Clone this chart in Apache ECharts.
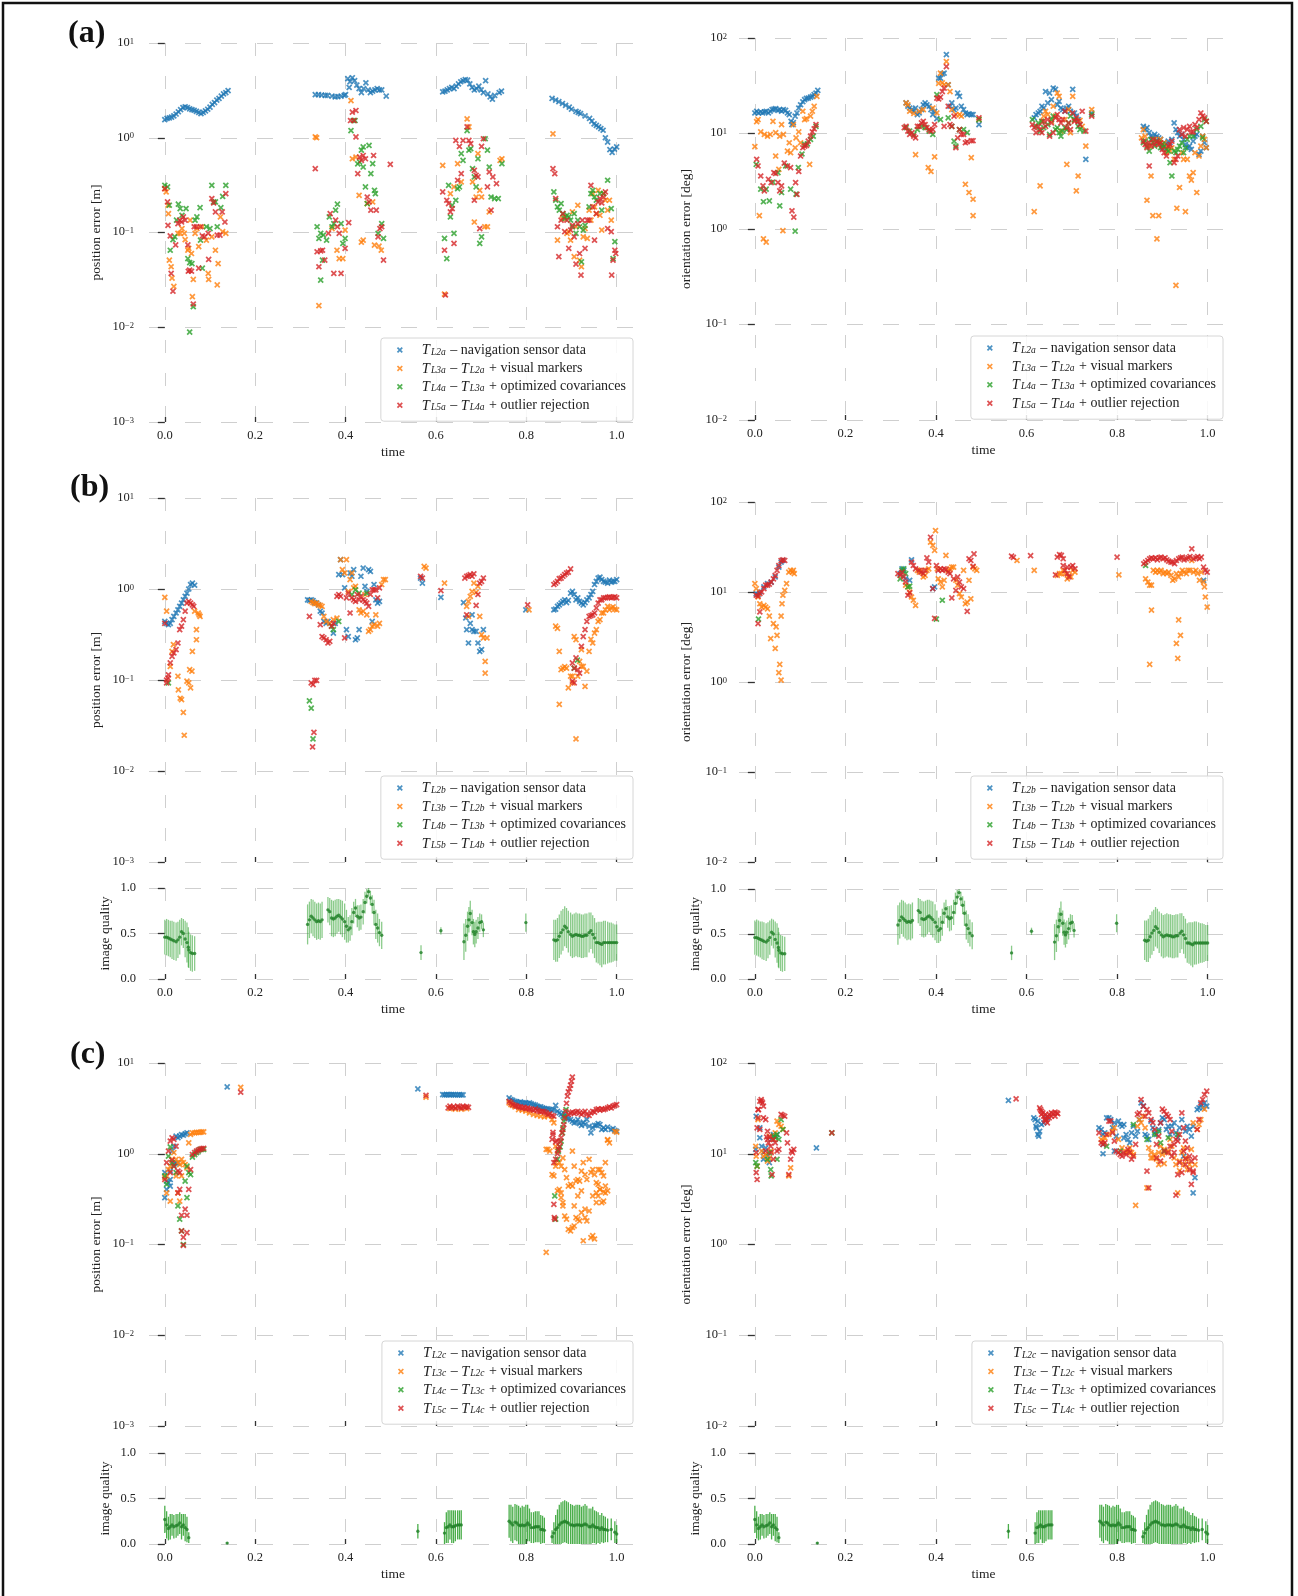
<!DOCTYPE html>
<html>
<head>
<meta charset="utf-8">
<title>Trajectory error and image quality over time</title>
<script src="https://cdn.jsdelivr.net/npm/echarts@6.0.0/dist/echarts.min.js"></script>
<style>
  html, body { margin: 0; padding: 0; background: #ffffff; }
  #chart { width: 1298px; height: 1596px; }
</style>
</head>
<body>
<div id="chart"></div>
<script>
// ---------- tick values ----------
const timeTicks = [0, 0.2, 0.4, 0.6, 0.8, 1.0];

// ---------- series labels ----------
const layerNames = {
  a: ['L2a', 'L3a', 'L4a', 'L5a'],
  b: ['L2b', 'L3b', 'L4b', 'L5b'],
  c: ['L2c', 'L3c', 'L4c', 'L5c']
};
const layerText = ['navigation sensor data', 'visual markers', 'optimized covariances', 'outlier rejection'];

// ---------- (a) position error [m] ----------
const posA_nav = [[0,1.55],[0.005,1.6],[0.01,1.62],[0.015,1.65],[0.02,1.7],[0.025,1.78],[0.03,1.88],[0.035,1.98],[0.04,2.08],[0.045,2.12],[0.05,2.08],[0.055,2.02],[0.06,1.98],[0.065,1.95],[0.07,1.9],[0.075,1.85],[0.08,1.8],[0.085,1.85],[0.09,1.92],[0.095,2.0],[0.1,2.1],[0.105,2.25],[0.11,2.35],[0.115,2.5],[0.12,2.6],[0.125,2.75],[0.13,2.9],[0.135,3.0],[0.14,3.15],
[0.333,2.85],[0.34,2.85],[0.347,2.82],[0.355,2.8],[0.36,2.8],[0.37,2.75],[0.377,2.7],[0.383,2.72],[0.39,2.75],[0.397,2.8],[0.4,2.85],[0.405,4.2],[0.41,3.9],[0.415,4.3],[0.42,4.0],[0.425,3.6],[0.43,3.3],[0.435,3.0],[0.44,3.3],[0.445,3.8],[0.45,3.2],[0.455,3.0],[0.46,3.1],[0.465,3.2],[0.47,3.3],[0.475,3.2],[0.48,3.2],[0.49,2.75],[0.408,3.4],
[0.615,3.05],[0.62,3.1],[0.625,3.2],[0.63,3.3],[0.635,3.4],[0.64,3.3],[0.645,3.5],[0.65,3.7],[0.655,3.9],[0.66,4.0],[0.665,4.1],[0.67,4.05],[0.675,3.7],[0.68,3.4],[0.685,3.2],[0.69,3.3],[0.695,3.5],[0.7,3.2],[0.705,3.0],[0.71,4.0],[0.715,2.9],[0.72,2.7],[0.725,2.55],[0.73,2.8],[0.74,3.0],[0.745,3.1],
[0.857,2.6],[0.865,2.5],[0.872,2.4],[0.88,2.3],[0.887,2.2],[0.895,2.1],[0.9,2.0],[0.91,1.9],[0.915,1.85],[0.92,1.8],[0.93,1.7],[0.94,1.6],[0.945,1.5],[0.95,1.4],[0.955,1.35],[0.96,1.3],[0.965,1.25],[0.97,1.2],[0.975,1.0],[0.98,0.9],[0.985,0.75],[0.99,0.7],[0.995,0.76],[1.0,0.8]];
const posA_vis = [[0,0.29],[0.003,0.268],[0.007,0.194],[0.008,0.158],[0.01,0.051],[0.014,0.0435],[0.016,0.033],[0.02,0.027],[0.029,0.098],[0.034,0.098],[0.038,0.11],[0.043,0.098],[0.045,0.084],[0.051,0.065],[0.053,0.068],[0.056,0.135],[0.059,0.06],[0.061,0.021],[0.063,0.032],[0.067,0.098],[0.071,0.11],[0.075,0.071],[0.083,0.115],[0.092,0.083],[0.096,0.037],[0.097,0.032],[0.104,0.09],[0.112,0.065],[0.116,0.028],[0.118,0.047],[0.123,0.146],[0.128,0.102],[0.135,0.098],
[0.333,1.02],[0.336,1.0],[0.341,0.0169],[0.37,0.11],[0.381,0.065],[0.386,0.053],[0.394,0.053],[0.399,0.106],[0.412,2.47],[0.415,0.6],[0.423,0.625],[0.43,0.247],[0.435,0.079],[0.439,0.083],[0.448,0.202],[0.46,0.21],[0.464,0.0736],[0.474,0.0718],[0.479,0.065],
[0.615,0.51],[0.619,0.0224],[0.632,0.257],[0.64,0.303],[0.648,0.532],[0.656,0.342],[0.669,1.58],[0.673,1.3],[0.681,0.342],[0.685,0.129],[0.689,0.237],[0.693,0.68],[0.697,0.279],[0.701,0.237],[0.708,0.115],[0.714,0.115],[0.718,0.165],[0.742,0.577],[0.746,0.6],
[0.859,1.1],[0.869,0.083],[0.88,0.14],[0.885,0.146],[0.89,0.098],[0.894,0.102],[0.898,0.083],[0.902,0.165],[0.906,0.0556],[0.91,0.115],[0.914,0.194],[0.918,0.051],[0.922,0.0435],[0.926,0.09],[0.93,0.11],[0.935,0.0865],[0.939,0.172],[0.943,0.135],[0.947,0.257],[0.951,0.186],[0.955,0.158],[0.959,0.279],[0.963,0.152],[0.967,0.106],[0.971,0.257],[0.975,0.219],[0.98,0.172],[0.984,0.219],[0.988,0.135]];
const posA_cov = [[0,0.315],[0.006,0.303],[0.01,0.194],[0.012,0.065],[0.018,0.084],[0.022,0.09],[0.026,0.135],[0.03,0.199],[0.034,0.179],[0.038,0.152],[0.047,0.179],[0.051,0.053],[0.055,0.048],[0.06,0.047],[0.063,0.0165],[0.067,0.135],[0.071,0.146],[0.078,0.183],[0.079,0.083],[0.083,0.042],[0.092,0.115],[0.1,0.11],[0.104,0.315],[0.108,0.21],[0.112,0.21],[0.116,0.115],[0.124,0.183],[0.128,0.24],[0.135,0.315],[0.055,0.0089],
[0.337,0.115],[0.341,0.0865],[0.345,0.098],[0.345,0.0315],[0.349,0.051],[0.351,0.094],[0.358,0.083],[0.364,0.146],[0.37,0.115],[0.374,0.124],[0.378,0.172],[0.382,0.199],[0.39,0.124],[0.394,0.0766],[0.399,0.0865],[0.412,1.19],[0.417,1.52],[0.421,1.52],[0.427,0.53],[0.431,0.555],[0.435,0.74],[0.439,0.8],[0.439,0.491],[0.444,0.303],[0.448,0.202],[0.452,0.83],[0.456,0.418],[0.46,0.532],[0.464,0.279],[0.466,0.257],[0.472,0.098],[0.48,0.124],[0.484,0.0865],
[0.619,0.0865],[0.624,0.053],[0.628,0.315],[0.632,0.146],[0.636,0.194],[0.64,0.098],[0.644,0.219],[0.648,0.29],[0.652,0.303],[0.656,0.68],[0.66,0.577],[0.669,1.19],[0.673,0.74],[0.677,0.766],[0.681,0.472],[0.685,0.386],[0.689,0.303],[0.693,0.6],[0.697,0.0766],[0.701,0.09],[0.709,0.976],[0.714,0.74],[0.718,0.491],[0.722,0.237],[0.73,0.228],[0.738,0.228],[0.746,0.532],
[0.861,0.268],[0.865,0.219],[0.869,0.186],[0.873,0.172],[0.877,0.202],[0.881,0.158],[0.885,0.14],[0.89,0.152],[0.894,0.146],[0.898,0.135],[0.902,0.115],[0.906,0.158],[0.91,0.098],[0.914,0.135],[0.918,0.115],[0.922,0.049],[0.926,0.106],[0.93,0.119],[0.939,0.186],[0.943,0.257],[0.947,0.279],[0.951,0.237],[0.955,0.219],[0.963,0.257],[0.967,0.172],[0.971,0.257],[0.98,0.356],[0.988,0.179],[0.996,0.08],[0.992,0.053]];
const posA_rej = [[0,0.29],[0.006,0.21],[0.007,0.119],[0.012,0.092],[0.014,0.037],[0.018,0.024],[0.024,0.074],[0.029,0.124],[0.033,0.135],[0.037,0.129],[0.041,0.146],[0.045,0.135],[0.051,0.074],[0.052,0.039],[0.055,0.04],[0.059,0.039],[0.063,0.0176],[0.065,0.115],[0.07,0.115],[0.075,0.042],[0.079,0.115],[0.083,0.092],[0.088,0.09],[0.096,0.098],[0.097,0.052],[0.104,0.228],[0.108,0.205],[0.112,0.165],[0.116,0.094],[0.122,0.094],[0.127,0.165],[0.133,0.129],[0.135,0.257],
[0.333,0.472],[0.337,0.0626],[0.341,0.0435],[0.345,0.064],[0.349,0.065],[0.354,0.0512],[0.362,0.098],[0.366,0.158],[0.374,0.037],[0.378,0.135],[0.382,0.115],[0.386,0.098],[0.39,0.037],[0.399,0.068],[0.407,0.127],[0.411,1.52],[0.415,1.86],[0.419,1.52],[0.423,1.94],[0.423,1.02],[0.427,0.418],[0.431,0.625],[0.435,0.577],[0.439,0.65],[0.444,0.6],[0.448,0.237],[0.452,0.21],[0.456,0.172],[0.462,0.65],[0.468,0.172],[0.472,0.09],[0.476,0.11],[0.48,0.115],[0.484,0.0512],[0.499,0.524],
[0.615,0.268],[0.619,0.065],[0.621,0.0219],[0.624,0.219],[0.628,0.202],[0.632,0.165],[0.636,0.179],[0.64,0.0766],[0.644,0.937],[0.648,0.356],[0.652,0.81],[0.656,0.418],[0.66,0.937],[0.669,1.3],[0.673,0.937],[0.677,0.865],[0.685,0.453],[0.685,0.219],[0.689,0.402],[0.693,0.386],[0.697,0.11],[0.701,0.81],[0.705,0.976],[0.714,0.303],[0.718,0.435],[0.722,0.172],[0.726,0.386],[0.734,0.328],
[0.859,0.472],[0.863,0.418],[0.865,0.228],[0.869,0.115],[0.872,0.0556],[0.877,0.135],[0.881,0.158],[0.885,0.102],[0.89,0.135],[0.894,0.068],[0.898,0.106],[0.902,0.119],[0.906,0.09],[0.91,0.0464],[0.914,0.124],[0.918,0.06],[0.921,0.0355],[0.924,0.135],[0.93,0.068],[0.935,0.135],[0.939,0.135],[0.943,0.315],[0.947,0.186],[0.951,0.083],[0.955,0.158],[0.959,0.21],[0.963,0.228],[0.967,0.205],[0.971,0.237],[0.975,0.268],[0.98,0.11],[0.988,0.102],[0.989,0.0355],[0.992,0.051],[0.996,0.065],[0.998,0.06]];

// ---------- (a) orientation error [deg] ----------
const oriA_nav = [[0,16.4],[0.004,17.1],[0.008,16.4],[0.013,16.8],[0.017,16.4],[0.021,16.9],[0.025,17.1],[0.03,16.4],[0.034,17.1],[0.038,17.8],[0.042,18.0],[0.046,18.2],[0.051,17.5],[0.055,17.8],[0.059,17.1],[0.063,17.8],[0.068,17.5],[0.072,16.4],[0.076,15.8],[0.08,13.4],[0.082,12.4],[0.085,13.0],[0.089,15.2],[0.093,16.4],[0.097,18.5],[0.101,20.0],[0.106,21.5],[0.11,22.6],[0.114,23.3],[0.118,23.5],[0.123,24.0],[0.127,24.5],[0.131,25.5],[0.135,26.5],[0.139,28.3],
[0.334,20.9],[0.338,19.3],[0.342,18.5],[0.347,17.8],[0.351,17.1],[0.355,18.5],[0.359,15.8],[0.363,16.4],[0.368,17.8],[0.372,20.0],[0.376,20.9],[0.38,20.0],[0.385,19.3],[0.389,17.8],[0.393,15.8],[0.397,17.1],[0.402,14.3],[0.406,38],[0.41,38],[0.414,42],[0.418,42.8],[0.423,67],[0.427,32.4],[0.431,19.3],[0.435,20.9],[0.44,17.8],[0.444,18.5],[0.448,26.5],[0.452,24.5],[0.456,19.3],[0.461,17.8],[0.465,16.4],[0.469,15.8],[0.473,16.1],[0.478,15.8],[0.482,15.8],[0.495,12.4],
[0.617,14.6],[0.621,15.8],[0.626,16.4],[0.63,17.1],[0.634,19.3],[0.638,18.5],[0.642,27.5],[0.647,20.9],[0.651,26.5],[0.655,22.6],[0.659,29.9],[0.664,29.0],[0.668,20.0],[0.672,21.7],[0.676,18.5],[0.68,17.8],[0.685,17.1],[0.689,18.5],[0.693,19.3],[0.697,17.1],[0.702,29.0],[0.706,16.4],[0.71,15.2],[0.714,14.0],[0.718,12.4],[0.731,5.36],[0.744,16.4],
[0.858,11.9],[0.862,11.0],[0.866,11.5],[0.871,10.2],[0.875,9.38],[0.879,9.0],[0.883,9.77],[0.888,9.38],[0.892,9.0],[0.896,8.66],[0.9,7.09],[0.904,8.0],[0.909,7.68],[0.913,8.32],[0.917,7.38],[0.921,8.66],[0.926,12.9],[0.93,11.0],[0.934,10.2],[0.938,9.38],[0.943,9.77],[0.947,8.66],[0.951,7.68],[0.955,7.09],[0.96,7.38],[0.964,6.81],[0.968,8.32],[0.972,9.38],[0.976,9.77],[0.981,6.04],[0.985,6.55],[0.989,9.38],[0.993,8.0],[0.997,7.09]];
const oriA_vis = [[0,7.3],[0.004,13.3],[0.007,14.0],[0.013,10.4],[0.021,9.77],[0.028,9.38],[0.034,9.77],[0.04,13.4],[0.046,10.2],[0.055,9.38],[0.059,12.4],[0.063,9.77],[0.076,8.0],[0.085,12.4],[0.091,9.0],[0.097,10.4],[0.106,17.1],[0.11,14.0],[0.114,14.3],[0.123,15.2],[0.127,17.1],[0.131,19.3],[0.137,24.5],[0.01,1.38],[0.019,0.79],[0.025,0.73],[0.046,5.81],[0.053,4.22],[0.062,0.96],[0.072,6.55],[0.079,6.29],[0.089,7.09],[0.101,8.0],[0.121,4.75],
[0.334,20.9],[0.338,20.0],[0.342,17.1],[0.351,16.2],[0.355,6.0],[0.363,17.1],[0.372,17.8],[0.383,4.4],[0.389,4.0],[0.393,18.5],[0.397,5.7],[0.402,16.4],[0.406,33.5],[0.41,42.8],[0.414,34],[0.418,32.4],[0.423,56.6],[0.427,32.4],[0.431,27.5],[0.435,17.8],[0.444,15.8],[0.452,15.8],[0.456,15.2],[0.465,2.94],[0.473,2.41],[0.478,5.58],[0.482,2.05],[0.482,1.38],[0.495,14.0],
[0.617,1.52],[0.63,2.83],[0.634,13.4],[0.638,15.2],[0.642,17.1],[0.647,15.8],[0.655,13.4],[0.659,19.3],[0.664,15.2],[0.668,26.5],[0.672,24.5],[0.676,10.6],[0.685,14.0],[0.689,4.75],[0.693,17.8],[0.697,10.2],[0.702,24.5],[0.706,13.7],[0.71,2.51],[0.714,3.59],[0.718,13.7],[0.723,11.9],[0.731,7.38],[0.744,17.8],
[0.854,9.0],[0.858,11.0],[0.862,9.38],[0.866,2.0],[0.871,7.38],[0.875,3.59],[0.879,1.38],[0.883,8.66],[0.888,0.79],[0.892,1.38],[0.896,8.66],[0.9,7.38],[0.904,8.0],[0.909,6.29],[0.913,7.09],[0.917,6.55],[0.921,7.09],[0.926,5.36],[0.93,0.257],[0.932,1.65],[0.938,2.72],[0.943,6.29],[0.947,5.36],[0.951,1.52],[0.955,5.36],[0.96,3.59],[0.964,3.25],[0.968,3.89],[0.972,6.29],[0.976,2.41],[0.981,5.81],[0.985,7.38],[0.989,9.38],[0.993,8.66],[0.997,7.09]];
const oriA_cov = [[0.003,4.75],[0.013,2.61],[0.019,1.93],[0.025,2.61],[0.032,1.97],[0.04,3.1],[0.051,3.89],[0.055,1.75],[0.059,2.41],[0.068,4.57],[0.079,2.61],[0.089,0.95],[0.091,2.32],[0.096,4.4],[0.104,6.1],[0.11,7.68],[0.116,7.8],[0.123,8.66],[0.129,9.38],[0.135,11.9],
[0.334,11.5],[0.342,10.6],[0.351,9.77],[0.359,11.0],[0.368,11.9],[0.376,11.5],[0.385,10.6],[0.393,9.77],[0.402,25.5],[0.41,14.0],[0.427,14.6],[0.435,11.9],[0.44,8.32],[0.444,7.38],[0.452,11.0],[0.461,11.0],[0.469,10.2],[0.495,14.0],
[0.613,14.0],[0.621,11.9],[0.626,12.9],[0.63,10.6],[0.634,13.4],[0.638,11.5],[0.647,12.4],[0.651,9.77],[0.655,14.0],[0.659,15.2],[0.664,11.0],[0.668,11.5],[0.672,10.2],[0.676,9.38],[0.68,10.6],[0.685,11.5],[0.689,11.0],[0.693,12.9],[0.697,15.2],[0.706,14.0],[0.714,11.9],[0.718,11.0],[0.727,10.6],[0.744,15.8],
[0.858,8.0],[0.862,8.32],[0.866,7.38],[0.871,6.55],[0.875,8.66],[0.879,8.0],[0.883,7.38],[0.888,8.32],[0.892,8.0],[0.896,7.09],[0.9,7.68],[0.904,7.38],[0.909,6.81],[0.913,6.55],[0.917,4.95],[0.921,3.59],[0.926,6.55],[0.93,6.29],[0.934,6.81],[0.938,7.38],[0.943,8.0],[0.947,6.29],[0.951,7.09],[0.955,8.66],[0.96,9.38],[0.968,9.38],[0.976,11.0],[0.985,11.9],[0.989,9.0],[0.993,14.0],[0.997,13.4]];
const oriA_rej = [[0.004,5.36],[0.007,4.57],[0.013,3.59],[0.018,2.83],[0.021,2.51],[0.03,3.32],[0.036,3.06],[0.042,3.89],[0.046,3.81],[0.051,3.06],[0.055,2.51],[0.059,2.83],[0.065,4.9],[0.072,4.57],[0.079,4.4],[0.082,1.55],[0.086,1.33],[0.09,3.06],[0.093,2.31],[0.097,4.0],[0.101,5.81],[0.106,7.09],[0.11,7.38],[0.114,7.52],[0.118,8.32],[0.123,9.38],[0.127,10.4],[0.131,11.2],[0.135,12.4],
[0.33,11.5],[0.334,11.9],[0.338,10.6],[0.342,9.77],[0.347,10.2],[0.351,9.38],[0.355,9.0],[0.359,11.9],[0.363,11.9],[0.368,12.9],[0.372,13.4],[0.376,12.4],[0.38,11.5],[0.385,11.0],[0.389,10.6],[0.393,11.0],[0.397,12.4],[0.402,23.5],[0.406,23.0],[0.41,24.0],[0.414,27.5],[0.418,29.9],[0.423,50.2],[0.418,11.9],[0.427,19.3],[0.431,12.4],[0.435,11.9],[0.44,15.2],[0.444,7.1],[0.448,9.0],[0.452,11.0],[0.456,9.77],[0.461,9.77],[0.465,8.0],[0.469,8.2],[0.478,8.4],[0.482,8.4],[0.495,14.6],
[0.613,12.4],[0.617,11.5],[0.621,10.2],[0.626,11.9],[0.63,11.0],[0.634,10.2],[0.638,13.4],[0.642,11.9],[0.647,14.0],[0.651,9.38],[0.655,12.9],[0.659,10.2],[0.664,14.6],[0.668,15.8],[0.672,14.0],[0.676,12.9],[0.68,14.0],[0.685,17.1],[0.689,11.5],[0.693,12.9],[0.697,11.0],[0.702,16.4],[0.706,13.4],[0.71,14.6],[0.714,13.4],[0.718,12.4],[0.723,17.1],[0.731,10.6],[0.744,15.2],
[0.858,8.32],[0.862,7.68],[0.866,7.09],[0.871,8.0],[0.875,7.38],[0.879,8.66],[0.883,7.68],[0.888,8.32],[0.892,7.68],[0.896,8.0],[0.9,6.81],[0.904,6.29],[0.909,5.81],[0.913,7.38],[0.917,7.68],[0.921,8.32],[0.926,4.95],[0.93,5.36],[0.934,5.81],[0.938,11.0],[0.943,9.77],[0.947,11.5],[0.951,9.38],[0.955,11.0],[0.96,11.9],[0.964,10.4],[0.968,10.4],[0.972,12.4],[0.976,11.5],[0.981,14.0],[0.985,16.4],[0.989,15.2],[0.993,14.6],[0.997,13.4],[0.871,4.57]];

// ---------- (b) position error [m] ----------
const posB_nav = [[0,0.44],[0.004,0.42],[0.008,0.405],[0.012,0.42],[0.016,0.46],[0.02,0.5],[0.025,0.545],[0.029,0.59],[0.033,0.645],[0.037,0.7],[0.041,0.76],[0.045,0.83],[0.049,0.9],[0.053,1.0],[0.057,1.12],[0.061,1.16],[0.066,1.1],
[0.316,0.76],[0.32,0.75],[0.324,0.76],[0.328,0.745],[0.332,0.71],[0.336,0.7],[0.34,0.67],[0.344,0.57],[0.348,0.545],[0.352,0.44],[0.357,0.42],[0.361,0.44],[0.373,0.328],[0.377,0.42],[0.385,1.44],[0.389,2.1],[0.393,1.44],[0.398,1.03],[0.402,0.357],[0.406,0.3],[0.41,1.5],[0.414,1.38],[0.418,1.63],[0.422,0.277],[0.426,0.29],[0.43,0.357],[0.434,1.38],[0.439,1.7],[0.443,1.07],[0.447,0.94],[0.451,1.63],[0.455,1.56],[0.459,0.44],[0.463,1.12],[0.467,0.76],[0.471,0.7],[0.475,0.73],
[0.566,1.32],[0.57,1.16],[0.611,0.81],[0.661,0.71],[0.666,0.48],[0.668,0.357],[0.672,0.255],[0.676,0.42],[0.68,0.357],[0.684,0.343],[0.689,0.343],[0.693,0.255],[0.697,0.206],[0.701,0.216],[0.705,0.357],[0.68,0.52],[0.799,0.59],
[0.861,0.59],[0.865,0.6],[0.869,0.645],[0.873,0.67],[0.877,0.7],[0.881,0.73],[0.885,0.76],[0.889,0.71],[0.893,0.75],[0.898,0.9],[0.902,0.94],[0.906,0.87],[0.91,0.76],[0.914,0.8],[0.918,0.73],[0.922,0.7],[0.926,0.67],[0.93,0.71],[0.934,0.76],[0.939,0.8],[0.943,0.87],[0.947,0.94],[0.951,1.12],[0.955,1.21],[0.959,1.32],[0.963,1.35],[0.967,1.27],[0.971,1.21],[0.975,1.19],[0.98,1.16],[0.984,1.25],[0.988,1.19],[0.992,1.21],[0.996,1.21],[1.0,1.27]];
const posB_vis = [[0,0.81],[0.004,0.57],[0.012,0.141],[0.016,0.206],[0.019,0.245],[0.029,0.11],[0.03,0.078],[0.034,0.063],[0.037,0.061],[0.041,0.044],[0.043,0.0247],[0.049,0.097],[0.053,0.093],[0.057,0.082],[0.066,0.57],[0.07,0.357],[0.074,0.545],[0.076,0.52],[0.078,0.5],[0.07,0.277],[0.061,0.206],[0.06,0.125],[0.055,0.13],
[0.324,0.73],[0.328,0.71],[0.332,0.69],[0.336,0.7],[0.34,0.67],[0.344,0.66],[0.348,0.645],[0.352,0.5],[0.357,0.44],[0.365,0.42],[0.373,0.46],[0.381,0.48],[0.389,2.1],[0.393,1.63],[0.398,1.5],[0.402,2.1],[0.406,0.94],[0.41,1.27],[0.414,1.5],[0.418,1.03],[0.422,1.07],[0.43,0.59],[0.434,0.545],[0.439,0.57],[0.443,0.87],[0.447,0.52],[0.451,0.343],[0.455,0.357],[0.459,0.39],[0.463,0.405],[0.467,0.52],[0.471,0.39],[0.475,0.42],[0.48,1.12],[0.484,1.27],[0.488,1.27],
[0.574,1.77],[0.578,1.7],[0.619,1.16],[0.668,0.645],[0.672,0.73],[0.676,0.83],[0.68,0.94],[0.684,1.16],[0.689,0.92],[0.693,1.07],[0.697,0.5],[0.701,0.315],[0.705,0.29],[0.709,0.16],[0.709,0.119],[0.713,0.29],[0.672,0.5],[0.806,0.59],
[0.865,0.39],[0.869,0.37],[0.873,0.206],[0.877,0.13],[0.881,0.135],[0.885,0.14],[0.889,0.135],[0.893,0.082],[0.898,0.11],[0.902,0.11],[0.906,0.3],[0.91,0.277],[0.914,0.11],[0.918,0.16],[0.922,0.216],[0.926,0.141],[0.93,0.085],[0.934,0.125],[0.939,0.206],[0.943,0.28],[0.947,0.255],[0.951,0.328],[0.955,0.357],[0.959,0.44],[0.963,0.46],[0.967,0.545],[0.971,0.545],[0.975,0.59],[0.98,0.645],[0.984,0.59],[0.988,0.62],[0.992,0.635],[0.996,0.6],[1.0,0.59],[0.873,0.054],[0.91,0.0225],[0.902,0.093],[0.922,0.141]];
const posB_cov = [[0.008,0.093],[0.32,0.059],[0.324,0.049],[0.328,0.0225],[0.369,0.39],[0.373,0.357],[0.385,0.44],[0.414,0.87],[0.422,0.98],[0.43,0.9],[0.447,0.9],[0.906,0.135],[0.913,0.165]];
const posB_rej = [[0,0.42],[0.004,0.1],[0.007,0.105],[0.008,0.114],[0.012,0.154],[0.016,0.182],[0.02,0.198],[0.025,0.216],[0.029,0.255],[0.033,0.357],[0.037,0.39],[0.041,0.46],[0.045,0.57],[0.049,0.7],[0.053,0.73],[0.057,0.7],[0.061,0.67],[0.064,0.645],[0.004,0.093],
[0.32,0.5],[0.324,0.093],[0.328,0.089],[0.33,0.0266],[0.332,0.099],[0.336,0.099],[0.327,0.0184],[0.344,0.405],[0.348,0.3],[0.352,0.29],[0.357,0.277],[0.361,0.255],[0.365,0.266],[0.369,0.39],[0.373,0.42],[0.381,0.83],[0.385,0.87],[0.389,0.83],[0.398,0.29],[0.402,0.8],[0.406,0.9],[0.41,0.545],[0.414,0.8],[0.418,0.76],[0.422,0.73],[0.426,0.87],[0.43,0.76],[0.434,0.83],[0.439,0.76],[0.443,0.73],[0.447,0.7],[0.451,0.645],[0.455,0.87],[0.459,0.98],[0.463,0.98],[0.467,0.98],[0.471,0.8],[0.475,1.03],
[0.566,1.38],[0.57,1.32],[0.611,0.96],[0.664,1.32],[0.668,1.38],[0.672,1.4],[0.676,1.44],[0.68,1.38],[0.684,1.47],[0.689,0.66],[0.693,0.87],[0.697,1.16],[0.701,1.21],[0.705,1.32],[0.668,0.52],[0.803,0.67],
[0.861,1.12],[0.865,1.16],[0.869,1.21],[0.873,1.3],[0.877,1.32],[0.881,1.38],[0.885,1.44],[0.889,1.5],[0.893,1.53],[0.898,1.66],[0.902,0.154],[0.906,0.135],[0.91,0.175],[0.914,0.13],[0.918,0.119],[0.922,0.234],[0.926,0.3],[0.93,0.357],[0.934,0.44],[0.939,0.5],[0.943,0.51],[0.947,0.52],[0.951,0.545],[0.955,0.62],[0.959,0.7],[0.963,0.76],[0.967,0.76],[0.971,0.8],[0.975,0.8],[0.98,0.81],[0.984,0.82],[0.988,0.8],[0.992,0.81],[0.996,0.82],[1.0,0.8],[0.906,0.093],[0.902,0.097]];

// ---------- (b) orientation error [deg] ----------
const oriB_nav = [[0.003,9.6],[0.007,9.4],[0.011,10],[0.02,11.4],[0.028,12.4],[0.036,12.9],[0.045,14.7],[0.053,18.9],[0.058,21.5],[0.062,22.4],[0.321,16.0],[0.325,18.1],[0.329,17.4],[0.333,14.0],[0.342,13.5],[0.346,22.8],[0.393,10.9],[0.397,11.4],[0.991,13.5]];
const oriB_vis = [[0,12.4],[0.003,10.9],[0.007,8.8],[0.011,7.4],[0.015,6.8],[0.02,7.1],[0.024,6.8],[0.028,6.5],[0.032,5.4],[0.035,3.04],[0.041,4.46],[0.045,2.36],[0.047,4.1],[0.049,3.3],[0.053,1.27],[0.055,1.57],[0.058,1.05],[0.058,5.4],[0.06,7.4],[0.062,9.2],[0.066,10.4],[0.07,12.4],[0.075,16.6],[0.079,17.4],[0.083,16.6],[0.087,16.0],[0.085,17.4],
[0.333,11.9],[0.338,11.4],[0.342,10.0],[0.346,8.8],[0.35,8.1],[0.355,7.1],[0.359,17.4],[0.363,16.6],[0.367,17.4],[0.372,14.7],[0.376,15.3],[0.38,17.4],[0.384,18.1],[0.388,35.8],[0.393,32.9],[0.397,29.0],[0.399,48.2],[0.403,18.1],[0.405,14.0],[0.41,12.9],[0.414,11.4],[0.418,13.5],[0.422,25.5],[0.427,17.4],[0.431,18.1],[0.435,18.9],[0.439,18.9],[0.444,13.5],[0.448,11.9],[0.452,9.6],[0.456,8.8],[0.461,17.4],[0.465,7.4],[0.469,7.7],[0.473,13.5],[0.477,8.4],[0.482,18.9],[0.486,18.1],[0.49,17.4],
[0.579,22.4],[0.617,17.4],[0.668,15.3],[0.673,16.0],[0.677,16.0],[0.681,17.4],[0.685,16.0],[0.69,14.0],[0.694,15.3],[0.698,14.7],[0.702,17.4],[0.707,16.6],[0.804,15.5],
[0.863,14.0],[0.868,12.9],[0.872,11.9],[0.876,11.9],[0.88,17.4],[0.885,16.6],[0.889,17.4],[0.893,16.6],[0.897,17.4],[0.902,16.0],[0.906,16.6],[0.91,16.0],[0.914,16.6],[0.919,15.3],[0.923,13.5],[0.927,14.0],[0.931,16.0],[0.936,14.7],[0.94,16.0],[0.944,17.4],[0.948,16.6],[0.953,16.0],[0.957,17.4],[0.961,17.4],[0.965,22.4],[0.969,16.6],[0.974,17.4],[0.978,16.0],[0.982,13.5],[0.986,16.6],[0.991,12.9],[0.993,11.4],[0.995,8.8],[0.999,6.8],[0.876,6.3],[0.872,1.57],[0.936,4.9],[0.94,3.3],[0.931,2.68],[0.934,1.83]];
const oriB_cov = [[0.008,5.0],[0.321,14.0],[0.325,17.4],[0.329,18.1],[0.333,16.0],[0.338,11.4],[0.342,11.6],[0.414,8.1],[0.401,5.0],[0.863,19.7]];
const oriB_rej = [[0.003,9.2],[0.007,9.0],[0.011,9.6],[0.015,10],[0.02,10.9],[0.024,11.9],[0.028,11.9],[0.032,12.2],[0.036,12.9],[0.041,14.0],[0.045,15.3],[0.049,17.4],[0.053,19.7],[0.058,22.4],[0.062,22.8],[0.066,22.4],[0.007,4.46],[0.011,6.0],
[0.316,16.0],[0.321,15.3],[0.325,16.6],[0.329,14.7],[0.333,12.9],[0.338,9.2],[0.342,9.8],[0.346,21.5],[0.35,19.7],[0.355,18.1],[0.363,17.4],[0.367,16.6],[0.372,16.0],[0.376,17.4],[0.38,23.9],[0.384,21.5],[0.388,40.6],[0.393,10.9],[0.397,5.1],[0.401,19.7],[0.405,17.4],[0.41,18.1],[0.414,17.4],[0.418,18.1],[0.422,17.7],[0.427,16.6],[0.431,16.0],[0.435,8.6],[0.439,14.0],[0.444,10.4],[0.448,14.7],[0.452,12.9],[0.456,11.4],[0.461,10.9],[0.469,6.1],[0.473,23.4],[0.477,22.4],[0.482,19.3],[0.484,26.5],
[0.567,25.0],[0.571,24.2],[0.609,25.3],[0.664,15.5],[0.668,24.4],[0.673,26.0],[0.677,25.5],[0.681,19.7],[0.685,17.4],[0.69,16.0],[0.694,14.7],[0.698,18.9],[0.702,19.7],[0.707,18.1],[0.69,18.9],[0.681,23.4],[0.8,24.4],
[0.859,20.6],[0.863,21.5],[0.868,22.4],[0.872,23.4],[0.876,24.0],[0.88,23.4],[0.885,24.0],[0.889,22.8],[0.893,24.0],[0.897,24.4],[0.902,23.4],[0.906,24.0],[0.91,22.8],[0.914,22.0],[0.919,21.5],[0.923,21.5],[0.927,20.6],[0.931,22.4],[0.936,23.4],[0.94,24.0],[0.944,24.4],[0.948,22.8],[0.953,23.4],[0.957,24.0],[0.961,24.8],[0.965,30.2],[0.969,23.4],[0.974,24.0],[0.978,24.8],[0.982,23.4],[0.986,24.4],[0.991,18.9],[0.995,17.4],[0.999,16.6]];

// ---------- (c) position error [m] ----------
const posC_nav = [[0,0.328],[0.004,0.405],[0.008,0.48],[0.012,0.52],[0.012,0.645],[0.016,1.07],[0.02,1.21],[0.025,1.56],[0.029,1.5],[0.033,1.56],[0.037,1.63],[0.041,1.6],[0.045,1.66],[0.049,1.7],[0,0.62],[0.004,0.5],[0.012,0.44],[0.02,0.77],[0.025,0.79],[0.029,0.79],
[0.138,5.45],[0.56,5.18],[0.615,4.49],[0.619,4.45],[0.623,4.49],[0.627,4.49],[0.631,4.45],[0.635,4.49],[0.639,4.49],[0.643,4.45],[0.648,4.45],[0.652,4.49],[0.656,4.45],[0.66,4.45],
[0.762,4.12],[0.766,3.95],[0.77,3.88],[0.775,3.79],[0.779,3.72],[0.783,3.66],[0.787,3.72],[0.791,3.63],[0.795,3.63],[0.799,3.63],[0.803,3.58],[0.807,3.63],[0.811,3.55],[0.816,3.48],[0.82,3.43],[0.824,3.34],[0.828,3.28],[0.832,3.28],[0.836,3.2],[0.84,3.15],[0.844,3.12],[0.848,3.12],[0.852,3.07],[0.857,3.02],[0.861,3.07],[0.865,3.41],[0.869,2.94],[0.873,2.82],[0.877,2.71],[0.881,2.59],[0.885,2.75],[0.889,2.49],[0.893,2.43],[0.898,2.38],[0.902,2.28],[0.906,2.19],[0.91,2.23],[0.914,2.38],[0.918,2.15],[0.922,2.05],[0.926,2.23],[0.93,2.1],[0.934,2.38],[0.939,2.01],[0.943,1.7],[0.947,1.93],[0.951,2.05],[0.955,2.05],[0.959,2.15],[0.963,2.1],[0.967,1.85],[0.971,1.93],[0.975,1.85],[0.98,1.97],[0.988,1.85],[0.992,1.89],[0.996,1.81],[1.0,1.77]];
const posC_vis = [[0,0.545],[0.004,0.57],[0.008,0.67],[0.012,0.73],[0.016,0.87],[0.02,1.03],[0.025,0.87],[0.029,0.8],[0.033,0.76],[0.037,0.87],[0.041,0.8],[0.045,0.76],[0.049,0.7],[0.053,1.32],[0.057,1.63],[0.061,1.7],[0.066,1.7],[0.07,1.72],[0.074,1.72],[0.078,1.72],[0.082,1.74],[0.086,1.74],[0.025,0.57],[0.029,0.37],[0.033,0.3],[0.037,0.57],[0.004,0.37],[0.012,0.3],
[0.168,5.4],[0.578,4.2],[0.631,3.15],[0.643,3.1],[0.656,3.1],[0.668,3.15],
[0.762,3.63],[0.766,3.48],[0.77,3.41],[0.775,3.28],[0.783,3.07],[0.791,3.02],[0.799,2.94],[0.807,2.82],[0.816,2.71],[0.824,2.64],[0.832,2.59],[0.84,2.54],[0.848,2.59],[0.857,2.38],[0.861,2.19],
[0.865,1.21],[0.869,1.07],[0.873,0.8],[0.877,0.73],[0.881,0.9],[0.885,0.67],[0.889,0.545],[0.893,0.44],[0.898,0.46],[0.902,1.07],[0.906,0.73],[0.91,0.5],[0.914,0.52],[0.918,0.5],[0.922,0.645],[0.926,0.8],[0.93,0.59],[0.934,0.52],[0.939,0.87],[0.943,0.62],[0.947,0.67],[0.951,0.59],[0.955,0.48],[0.959,0.46],[0.963,0.405],[0.967,0.62],[0.971,0.57],[0.975,0.8],[0.98,1.41],[0.984,1.32],[0.996,1.77],[1.0,1.73],
[0.844,1.12],[0.848,1.12],[0.852,1.07],[0.857,0.59],[0.861,0.57],[0.865,0.8],[0.869,0.39],[0.873,0.405],[0.877,0.37],[0.881,0.29],[0.885,0.206],[0.889,0.19],[0.893,0.147],[0.898,0.141],[0.902,0.154],[0.906,0.16],[0.91,0.198],[0.914,0.19],[0.918,0.182],[0.922,0.39],[0.926,0.11],[0.93,0.198],[0.934,0.182],[0.939,0.234],[0.943,0.119],[0.947,0.125],[0.951,0.115],[0.955,0.37],[0.959,0.343],[0.963,0.405],[0.967,0.29],[0.971,0.3],[0.975,0.37],[0.98,0.39],[0.844,0.082],[0.865,0.73],[0.877,0.328],[0.881,0.266],[0.906,0.266],[0.914,0.343],[0.922,0.225],[0.93,0.245],[0.947,0.343],[0.955,0.29],[0.971,0.38],[0.975,0.44],[0.902,0.44],[0.959,0.67],[0.98,1.43],[0.963,0.67]];
const posC_cov = [[0,0.57],[0.004,0.46],[0.008,0.94],[0.012,1.19],[0.016,0.8],[0.02,0.73],[0.025,0.62],[0.029,0.266],[0.033,0.19],[0.037,0.141],[0.041,0.1],[0.045,0.5],[0.049,0.73],[0.053,0.62],[0.057,0.59],[0.061,0.92],[0.066,0.98],[0.07,1.03],[0.074,1.07],[0.078,1.12],[0.082,1.12],[0.086,1.12],[0.049,0.328],
[0.863,0.343],[0.865,0.19],[0.869,0.87],[0.871,1.07],[0.875,1.19],[0.877,1.38],[0.88,1.7],[0.881,1.93],[0.883,2.28],[0.885,2.59],[0.888,3.07]];
const posC_rej = [[0,0.52],[0.004,0.8],[0.008,1.07],[0.012,1.38],[0.016,1.5],[0.02,1.44],[0.025,1.21],[0.029,0.37],[0.033,0.405],[0.037,0.141],[0.041,0.098],[0.045,0.245],[0.049,0.21],[0.053,0.405],[0.057,0.67],[0.061,0.98],[0.066,1.03],[0.07,1.07],[0.074,1.1],[0.078,1.12],[0.082,1.14],[0.086,1.15],[0.029,0.645],[0.033,0.62],[0.02,0.73],[0.016,0.85],[0.012,0.62],[0.037,0.21],[0.041,0.12],[0.049,0.135],
[0.168,4.76],[0.578,4.4],[0.627,3.2],[0.631,3.34],[0.635,3.2],[0.639,3.3],[0.643,3.2],[0.648,3.34],[0.652,3.25],[0.656,3.2],[0.66,3.34],[0.664,3.25],[0.668,3.3],[0.672,3.25],
[0.762,3.79],[0.766,3.63],[0.77,3.48],[0.775,3.41],[0.779,3.34],[0.783,3.28],[0.787,3.28],[0.791,3.2],[0.795,3.25],[0.799,3.14],[0.803,3.2],[0.807,3.12],[0.811,3.07],[0.816,3.02],[0.82,3.12],[0.824,3.02],[0.828,2.94],[0.832,2.92],[0.836,2.94],[0.84,2.89],[0.844,2.82],[0.848,2.71],[0.852,2.75],[0.857,2.64],[0.861,2.59],[0.893,2.71],[0.898,2.82],[0.902,2.87],[0.906,2.77],[0.91,2.87],[0.914,2.94],[0.918,2.82],[0.922,2.71],[0.926,2.82],[0.93,2.94],[0.934,2.71],[0.939,2.64],[0.943,2.82],[0.947,2.94],[0.951,2.87],[0.955,3.07],[0.959,3.12],[0.963,3.02],[0.967,3.12],[0.971,3.07],[0.975,3.12],[0.98,3.2],[0.984,3.28],[0.988,3.2],[0.992,3.34],[0.996,3.41],[1.0,3.48],
[0.857,1.44],[0.859,1.62],[0.861,0.8],[0.865,0.87],[0.869,1.0],[0.871,1.12],[0.873,1.2],[0.875,1.35],[0.877,1.5],[0.879,1.7],[0.881,1.85],[0.883,2.1],[0.885,2.49],[0.887,2.94],[0.889,3.6],[0.891,4.31],[0.893,4.8],[0.896,5.2],[0.898,5.7],[0.9,6.3],[0.902,7.0],[0.859,1.72],[0.861,0.277],[0.862,0.198],[0.863,0.19],[0.865,1.35],[0.867,1.4]];

// ---------- (c) orientation error [deg] ----------
const oriC_nav = [[0.002,11.2],[0.003,25.9],[0.011,19.3],[0.015,12.1],[0.019,10.3],[0.024,11.6],[0.028,9.4],[0.032,8.0],[0.036,14.4],[0.041,16.3],[0.045,15.6],[0.049,16.3],[0.011,15.0],[0.019,8.7],
[0.136,11.6],[0.56,38.7],[0.616,24.9],[0.621,20.1],[0.622,19.3],[0.625,16.3],[0.627,15.6],[0.629,17.7],[0.633,21.0],[0.638,21.9],[0.642,23.8],[0.619,23.8],[0.625,22.9],[0.646,24.9],
[0.76,19.3],[0.765,18.5],[0.769,16.3],[0.773,17.0],[0.777,24.9],[0.782,24.9],[0.786,23.8],[0.79,19.3],[0.794,21.9],[0.798,15.6],[0.803,22.9],[0.807,21.0],[0.811,20.1],[0.815,21.0],[0.82,16.3],[0.824,14.4],[0.828,13.2],[0.832,17.0],[0.836,20.1],[0.841,15.6],[0.845,17.7],[0.849,23.8],[0.853,36.3],[0.858,33.4],[0.862,16.3],[0.866,15.6],[0.87,14.4],[0.875,22.9],[0.879,19.3],[0.883,17.0],[0.887,16.3],[0.892,18.5],[0.896,21.9],[0.9,24.9],[0.904,23.8],[0.909,18.5],[0.913,20.1],[0.917,16.3],[0.921,20.1],[0.926,21.9],[0.93,17.0],[0.934,15.0],[0.938,19.3],[0.943,23.8],[0.947,9.4],[0.951,17.7],[0.955,20.1],[0.96,18.5],[0.964,15.6],[0.968,20.1],[0.972,5.45],[0.968,3.7],[0.977,30.7],[0.981,32.0],[0.985,34.8],[0.989,32.0],[0.993,36.3],[0.998,33.4],[0.769,10.0],[0.794,10.7],[0.815,14.9],[0.769,12.7]];
const oriC_vis = [[0.002,12.1],[0.003,9.4],[0.005,7.3],[0.007,23.8],[0.015,10.7],[0.019,9.4],[0.024,9.8],[0.028,8.3],[0.032,9.0],[0.036,10.7],[0.041,14.4],[0.045,17.0],[0.049,22.9],[0.053,21.0],[0.058,20.1],[0.062,18.5],[0.075,5.7],[0.079,7.0],[0.032,15.6],
[0.765,14.4],[0.769,13.8],[0.773,15.0],[0.782,16.3],[0.79,17.7],[0.794,19.3],[0.803,14.4],[0.811,11.6],[0.82,10.3],[0.824,10.7],[0.828,11.6],[0.832,10.3],[0.836,9.8],[0.841,2.7],[0.845,20.1],[0.849,23.8],[0.853,22.0],[0.858,25.9],[0.862,19.3],[0.866,4.2],[0.87,11.6],[0.875,10.3],[0.879,9.0],[0.883,9.8],[0.887,8.7],[0.892,10.3],[0.896,12.1],[0.9,9.8],[0.904,11.2],[0.909,10.3],[0.913,10.7],[0.917,14.4],[0.921,12.1],[0.926,9.0],[0.93,7.6],[0.934,3.7],[0.938,8.3],[0.943,10.3],[0.947,11.6],[0.951,9.0],[0.955,8.7],[0.96,7.6],[0.964,11.2],[0.968,21.9],[0.972,7.6],[0.977,18.5],[0.981,21.0],[0.985,23.8],[0.993,31.0],[0.892,7.6],[0.904,7.8],[0.875,9.0],[0.938,6.5],[0.947,7.6],[0.955,6.7]];
const oriC_cov = [[0.002,8.0],[0.005,7.3],[0.028,8.7],[0.032,10.3],[0.035,6.7],[0.036,5.7],[0.041,15.6],[0.045,15.0],[0.049,16.3],[0.053,14.4],[0.058,23.8],[0.062,18.5],[0.049,8.7],[0.17,17.0],
[0.777,12.1],[0.807,10.7],[0.836,21.0],[0.866,14.4],[0.883,16.3],[0.892,17.7],[0.896,13.2],[0.904,10.7],[0.913,15.0],[0.934,16.3]];
const oriC_rej = [[0.003,10.3],[0.003,6.2],[0.005,5.2],[0.007,24.9],[0.008,30.7],[0.011,37.9],[0.014,39.5],[0.015,37.9],[0.017,36.3],[0.019,33.4],[0.005,19.3],[0.007,30.7],[0.011,18.5],[0.019,24.9],[0.024,23.8],[0.026,15.3],[0.028,14.4],[0.03,13.2],[0.032,15.3],[0.035,12.1],[0.036,10.3],[0.038,5.9],[0.041,14.4],[0.045,13.2],[0.049,10.7],[0.053,11.2],[0.058,27.1],[0.062,26.5],[0.066,25.9],[0.07,17.0],[0.072,13.2],[0.075,5.9],[0.079,8.7],[0.081,10.7],[0.083,10.3],[0.086,11.2],[0.024,10.7],[0.028,17.7],[0.041,8.7],
[0.17,17.0],[0.577,40.3],[0.629,32.0],[0.631,30.7],[0.633,29.4],[0.636,28.2],[0.638,25.9],[0.64,23.8],[0.642,22.9],[0.644,23.8],[0.646,25.9],[0.65,27.1],[0.655,28.2],[0.659,27.7],[0.663,28.7],[0.667,28.2],[0.669,27.6],[0.633,27.1],[0.642,27.1],[0.65,24.9],[0.655,25.9],[0.646,21.9],[0.663,25.9],
[0.76,17.0],[0.765,13.2],[0.769,12.7],[0.773,13.2],[0.777,16.3],[0.782,22.9],[0.786,22.9],[0.79,17.0],[0.794,13.8],[0.798,10.7],[0.803,10.3],[0.807,9.8],[0.811,9.4],[0.815,10.3],[0.82,9.8],[0.824,11.2],[0.828,10.3],[0.832,8.7],[0.836,9.4],[0.841,12.7],[0.845,27.1],[0.849,28.2],[0.853,39.5],[0.858,33.4],[0.862,25.9],[0.866,30.7],[0.87,28.2],[0.875,23.8],[0.879,22.0],[0.883,18.5],[0.887,12.7],[0.892,15.6],[0.896,21.9],[0.9,31.0],[0.904,29.4],[0.909,27.1],[0.913,25.9],[0.917,23.8],[0.921,17.7],[0.926,12.7],[0.93,14.4],[0.934,13.8],[0.938,16.3],[0.943,28.2],[0.947,19.3],[0.951,13.8],[0.955,11.6],[0.96,9.4],[0.964,8.3],[0.968,6.45],[0.972,9.0],[0.977,18.5],[0.981,23.8],[0.985,36.3],[0.989,39.5],[0.993,44.9],[0.998,48.9],[0.866,6.45],[0.87,4.2],[0.93,3.5],[0.934,5.9],[0.964,4.6],[0.968,6.2],[0.887,9.0],[0.896,8.3],[0.904,10.7],[0.913,10.3],[0.917,12.1],[0.938,8.0],[0.943,6.2],[0.951,7.6],[0.96,6.7],[0.951,8.8],[0.947,10.7],[0.921,9.4],[0.926,10.3]];

// ---------- image quality: [time, mean, spread] ----------
const iqB = [[0,0.46,0.19],[0.004,0.46,0.2],[0.008,0.45,0.2],[0.012,0.44,0.2],[0.016,0.43,0.21],[0.02,0.42,0.21],[0.025,0.41,0.21],[0.029,0.43,0.2],[0.033,0.46,0.19],[0.037,0.52,0.15],[0.041,0.5,0.16],[0.045,0.44,0.2],[0.049,0.4,0.22],[0.052,0.35,0.22],[0.053,0.32,0.2],[0.057,0.29,0.2],[0.061,0.28,0.2],[0.066,0.28,0.19],
[0.316,0.6,0.22],[0.32,0.65,0.2],[0.324,0.69,0.19],[0.328,0.67,0.2],[0.332,0.65,0.2],[0.336,0.63,0.2],[0.34,0.64,0.2],[0.344,0.63,0.2],[0.348,0.65,0.2],[0.361,0.76,0.14],[0.365,0.74,0.15],[0.369,0.67,0.2],[0.373,0.66,0.2],[0.377,0.67,0.2],[0.381,0.69,0.19],[0.385,0.7,0.18],[0.389,0.68,0.19],[0.393,0.66,0.2],[0.398,0.63,0.2],[0.402,0.58,0.18],[0.406,0.54,0.14],[0.41,0.56,0.14],[0.414,0.63,0.15],[0.418,0.73,0.12],[0.422,0.78,0.1],[0.426,0.69,0.12],[0.43,0.67,0.14],[0.434,0.68,0.14],[0.439,0.74,0.14],[0.443,0.84,0.12],[0.447,0.91,0.08],[0.451,0.96,0.05],[0.455,0.89,0.08],[0.459,0.82,0.1],[0.463,0.73,0.14],[0.467,0.6,0.16],[0.471,0.56,0.16],[0.475,0.51,0.15],[0.48,0.48,0.15],
[0.567,0.29,0.08],[0.611,0.53,0.04],
[0.662,0.41,0.2],[0.666,0.48,0.18],[0.67,0.58,0.16],[0.673,0.65,0.14],[0.676,0.72,0.14],[0.68,0.62,0.14],[0.683,0.52,0.14],[0.686,0.49,0.14],[0.689,0.52,0.13],[0.693,0.56,0.12],[0.697,0.62,0.1],[0.701,0.63,0.08],[0.705,0.54,0.08],
[0.799,0.62,0.1],
[0.861,0.43,0.22],[0.865,0.42,0.23],[0.869,0.43,0.24],[0.873,0.47,0.24],[0.877,0.51,0.24],[0.881,0.54,0.23],[0.885,0.58,0.22],[0.889,0.56,0.22],[0.893,0.52,0.23],[0.898,0.49,0.24],[0.902,0.47,0.24],[0.906,0.48,0.24],[0.91,0.49,0.24],[0.914,0.48,0.24],[0.918,0.48,0.24],[0.922,0.47,0.24],[0.926,0.47,0.24],[0.93,0.48,0.24],[0.934,0.48,0.24],[0.939,0.51,0.22],[0.943,0.53,0.2],[0.947,0.49,0.21],[0.951,0.45,0.22],[0.955,0.4,0.22],[0.959,0.4,0.23],[0.963,0.39,0.24],[0.967,0.38,0.25],[0.971,0.4,0.24],[0.975,0.4,0.24],[0.98,0.4,0.23],[0.984,0.4,0.22],[0.988,0.4,0.22],[0.992,0.4,0.21],[0.996,0.4,0.2],[1.0,0.4,0.2]];
const iqC = [[0,0.27,0.15],[0.004,0.21,0.15],[0.008,0.17,0.13],[0.012,0.19,0.14],[0.016,0.21,0.12],[0.02,0.19,0.13],[0.025,0.2,0.13],[0.029,0.21,0.12],[0.033,0.23,0.12],[0.037,0.19,0.14],[0.041,0.21,0.12],[0.045,0.18,0.15],[0.049,0.16,0.14],[0.053,0.07,0.06],
[0.138,0.01,0.01],
[0.56,0.14,0.08],[0.619,0.12,0.12],[0.623,0.18,0.17],[0.627,0.19,0.18],[0.631,0.21,0.16],[0.635,0.19,0.18],[0.639,0.19,0.18],[0.643,0.2,0.17],[0.648,0.21,0.16],[0.652,0.21,0.16],[0.656,0.21,0.16],
[0.762,0.25,0.18],[0.766,0.23,0.2],[0.77,0.21,0.2],[0.775,0.24,0.2],[0.779,0.23,0.2],[0.783,0.21,0.21],[0.787,0.2,0.2],[0.791,0.21,0.21],[0.795,0.2,0.21],[0.799,0.21,0.22],[0.803,0.23,0.2],[0.807,0.21,0.18],[0.811,0.18,0.17],[0.816,0.18,0.17],[0.82,0.19,0.17],[0.824,0.19,0.17],[0.828,0.19,0.17],[0.832,0.16,0.16],[0.836,0.16,0.15],[0.84,0.15,0.14],
[0.857,0.08,0.07],[0.861,0.12,0.12],[0.865,0.16,0.16],[0.869,0.18,0.2],[0.873,0.21,0.22],[0.877,0.23,0.23],[0.881,0.24,0.23],[0.885,0.25,0.23],[0.889,0.24,0.23],[0.893,0.23,0.23],[0.898,0.21,0.23],[0.902,0.21,0.22],[0.906,0.2,0.22],[0.91,0.21,0.22],[0.914,0.21,0.22],[0.918,0.21,0.22],[0.922,0.2,0.21],[0.926,0.21,0.21],[0.93,0.22,0.22],[0.934,0.21,0.21],[0.939,0.19,0.2],[0.943,0.19,0.2],[0.947,0.21,0.2],[0.951,0.19,0.18],[0.955,0.18,0.18],[0.959,0.18,0.17],[0.963,0.16,0.16],[0.967,0.18,0.16],[0.971,0.16,0.15],[0.975,0.16,0.14],[0.98,0.15,0.13],[0.988,0.16,0.12],[0.996,0.13,0.12],[1.0,0.11,0.1]];

// ---------- styling ----------
const SERIF = '"Liberation Serif", "DejaVu Serif", serif';
const COLORS = ['#1f77b4', '#ff7f0e', '#2ca02c', '#d62728'];
const GRID_COLOR = '#cfcfcf';
const INK = '#222222';
const XMARK = 'path://M0,2L2,0L5,3L8,0L10,2L7,5L10,8L8,10L5,7L2,10L0,8L3,5Z';

// plot rectangles: left/right columns, three rows (+ quality strips)
const L = { left: 149, width: 488 };
const R = { left: 739, width: 489 };
const grids = [
  { ...L, top: 43,   height: 379 },  // 0 (a) position
  { ...R, top: 38,   height: 382 },  // 1 (a) orientation
  { ...L, top: 498,  height: 364 },  // 2 (b) position
  { ...R, top: 502,  height: 360 },  // 3 (b) orientation
  { ...L, top: 888,  height: 91 },   // 4 (b) quality
  { ...R, top: 889,  height: 90 },   // 5 (b) quality
  { ...L, top: 1063, height: 363 },  // 6 (c) position
  { ...R, top: 1063, height: 363 },  // 7 (c) orientation
  { ...L, top: 1453, height: 91 },   // 8 (c) quality
  { ...R, top: 1453, height: 91 }    // 9 (c) quality
];

function xAxisFor(g, withLabels) {
  return {
    type: 'value', gridIndex: g, min: -0.035, max: 1.045,
    axisLine: { show: false },
    axisTick: { show: true, inside: true, length: 5, customValues: timeTicks, lineStyle: { color: '#333', width: 1.3 } },
    axisLabel: { show: withLabels, customValues: timeTicks, formatter: v => v.toFixed(1), margin: 7,
                 fontFamily: SERIF, fontSize: 12.5, color: INK },
    splitLine: { show: true, lineStyle: { color: GRID_COLOR, width: 1, type: [13, 20] } },
    name: withLabels ? 'time' : '', nameLocation: 'middle', nameGap: 23,
    nameTextStyle: { fontFamily: SERIF, fontSize: 13.5, color: INK }
  };
}

function expLabel(v) {
  const e = Math.round(Math.log10(v));
  return '{b|10}{e|' + (e < 0 ? '\u2212' + (-e) : String(e)) + '}';
}

function logAxisFor(g, lo, hi, name, margin) {
  return {
    type: 'log', logBase: 10, gridIndex: g, min: lo, max: hi,
    axisLine: { show: false },
    axisTick: { show: true, length: 7, lineStyle: { color: '#333', width: 1.3 } },
    minorTick: { show: false },
    axisLabel: {
      formatter: expLabel, margin, color: INK,
      rich: {
        b: { fontFamily: SERIF, fontSize: 12.5, lineHeight: 12, verticalAlign: 'bottom', padding: [4, 0, 0, 0], color: INK },
        e: { fontFamily: SERIF, fontSize: 8.5, lineHeight: 9, verticalAlign: 'top', color: INK }
      }
    },
    splitLine: { show: true, lineStyle: { color: GRID_COLOR, width: 1, type: [16, 20] } },
    name, nameLocation: 'middle', nameGap: 46,
    nameTextStyle: { fontFamily: SERIF, fontSize: 13.5, color: INK }
  };
}

function qualityAxisFor(g) {
  return {
    type: 'value', gridIndex: g, min: 0, max: 1, interval: 0.5,
    axisLine: { show: false },
    axisTick: { show: true, length: 7, lineStyle: { color: '#333', width: 1.3 } },
    axisLabel: { formatter: v => v.toFixed(1), margin: 13, fontFamily: SERIF, fontSize: 12.5, color: INK },
    splitLine: { show: true, lineStyle: { color: GRID_COLOR, width: 1, type: [16, 20] } },
    name: 'image quality', nameLocation: 'middle', nameGap: 37,
    nameTextStyle: { fontFamily: SERIF, fontSize: 13.5, color: INK }
  };
}

const xAxes = [
  xAxisFor(0, true), xAxisFor(1, true),
  xAxisFor(2, false), xAxisFor(3, false),
  xAxisFor(4, true), xAxisFor(5, true),
  xAxisFor(6, false), xAxisFor(7, false),
  xAxisFor(8, true), xAxisFor(9, true)
];
const yAxes = [
  logAxisFor(0, 0.001, 10, 'position error [m]', 15),
  logAxisFor(1, 0.01, 100, 'orientation error [deg]', 12),
  logAxisFor(2, 0.001, 10, 'position error [m]', 15),
  logAxisFor(3, 0.01, 100, 'orientation error [deg]', 12),
  qualityAxisFor(4), qualityAxisFor(5),
  logAxisFor(6, 0.001, 10, 'position error [m]', 15),
  logAxisFor(7, 0.01, 100, 'orientation error [deg]', 12),
  qualityAxisFor(8), qualityAxisFor(9)
];

const errorPanels = [
  { g: 0, row: 'a', sets: [posA_nav, posA_vis, posA_cov, posA_rej] },
  { g: 1, row: 'a', sets: [oriA_nav, oriA_vis, oriA_cov, oriA_rej] },
  { g: 2, row: 'b', sets: [posB_nav, posB_vis, posB_cov, posB_rej] },
  { g: 3, row: 'b', sets: [oriB_nav, oriB_vis, oriB_cov, oriB_rej] },
  { g: 6, row: 'c', sets: [posC_nav, posC_vis, posC_cov, posC_rej] },
  { g: 7, row: 'c', sets: [oriC_nav, oriC_vis, oriC_cov, oriC_rej] }
];

const series = [];
errorPanels.forEach(p => {
  p.sets.forEach((data, k) => {
    series.push({
      type: 'scatter', name: layerNames[p.row][k], data,
      xAxisIndex: p.g, yAxisIndex: p.g,
      symbol: XMARK, symbolSize: 6.2,
      itemStyle: { color: COLORS[k] },
      silent: true, z: 2 + k
    });
  });
});

function errorBarsWith(alpha) {
  return function (params, api) {
    const t = api.value(0), m = api.value(1), s = api.value(2);
    const lo = api.coord([t, Math.max(m - s, 0)]);
    const hi = api.coord([t, m + s]);
    return { type: 'line', shape: { x1: lo[0], y1: lo[1], x2: hi[0], y2: hi[1] },
             style: { stroke: 'rgba(44,160,44,' + alpha + ')', lineWidth: 1.3 } };
  };
}
[[4, iqB, 0.55], [5, iqB, 0.55], [8, iqC, 0.85], [9, iqC, 0.85]].forEach(([g, data, alpha]) => {
  series.push({ type: 'custom', data, xAxisIndex: g, yAxisIndex: g, encode: { x: 0, y: 1 },
                renderItem: errorBarsWith(alpha), clip: true, silent: true, z: 2 });
  series.push({ type: 'scatter', data, xAxisIndex: g, yAxisIndex: g, symbol: 'circle', symbolSize: 3.4,
                itemStyle: { color: '#1f7f27' }, silent: true, z: 3 });
});

// legend text: script-style T with layer subscripts
function legendLabel(name) {
  const row = name.slice(-1);
  const k = layerNames[row].indexOf(name);
  let s = '{T|T}{s|' + name + '}{r| \u2013 }';
  if (k === 0) s += '{r|' + layerText[0] + '}';
  else s += '{T|T}{s|' + layerNames[row][k - 1] + '}{r| + ' + layerText[k] + '}';
  return s;
}
const legendRich = {
  T: { fontFamily: SERIF, fontStyle: 'italic', fontSize: 14.5, lineHeight: 14, verticalAlign: 'top', padding: [0, 1, 3, 0], color: INK },
  s: { fontFamily: SERIF, fontStyle: 'italic', fontSize: 9.5, lineHeight: 9, verticalAlign: 'bottom', padding: [0, 1, 0, 0], color: INK },
  r: { fontFamily: SERIF, fontSize: 14, lineHeight: 14, verticalAlign: 'top', padding: [0, 0, 3, 0], color: INK }
};
function legendFor(row, right, top) {
  return {
    orient: 'vertical', right, top, data: layerNames[row], selectedMode: false,
    icon: XMARK, itemWidth: 34, itemHeight: 6, itemGap: 0.4,
    padding: [5, 7, 5, 16], backgroundColor: 'rgba(255,255,255,0.85)',
    borderColor: '#d6d6d6', borderWidth: 1, borderRadius: 3,
    formatter: legendLabel, textStyle: { rich: legendRich }
  };
}
const legends = [
  legendFor('a', 665, 338),
  legendFor('a', 75, 336),
  legendFor('b', 665, 776),
  legendFor('b', 75, 776),
  legendFor('c', 665, 1341),
  legendFor('c', 75, 1341)
];

const panelTag = (txt, left, top) => ({
  type: 'text', left, top, silent: true,
  style: { text: txt, font: 'bold 32px "Liberation Serif", serif', fill: '#111' }
});

const chart = echarts.init(document.getElementById('chart'), null, { renderer: 'canvas' });
chart.setOption({
  animation: false,
  backgroundColor: '#ffffff',
  grid: grids,
  xAxis: xAxes,
  yAxis: yAxes,
  legend: legends,
  series,
  graphic: [
    { type: 'rect', silent: true, z: 100, shape: { x: 3, y: 3, width: 1289, height: 1620 },
      style: { fill: 'none', stroke: '#111', lineWidth: 2.5 } },
    panelTag('(a)', 68, 18),
    panelTag('(b)', 70, 472),
    panelTag('(c)', 70, 1039)
  ]
});
</script>
</body>
</html>
